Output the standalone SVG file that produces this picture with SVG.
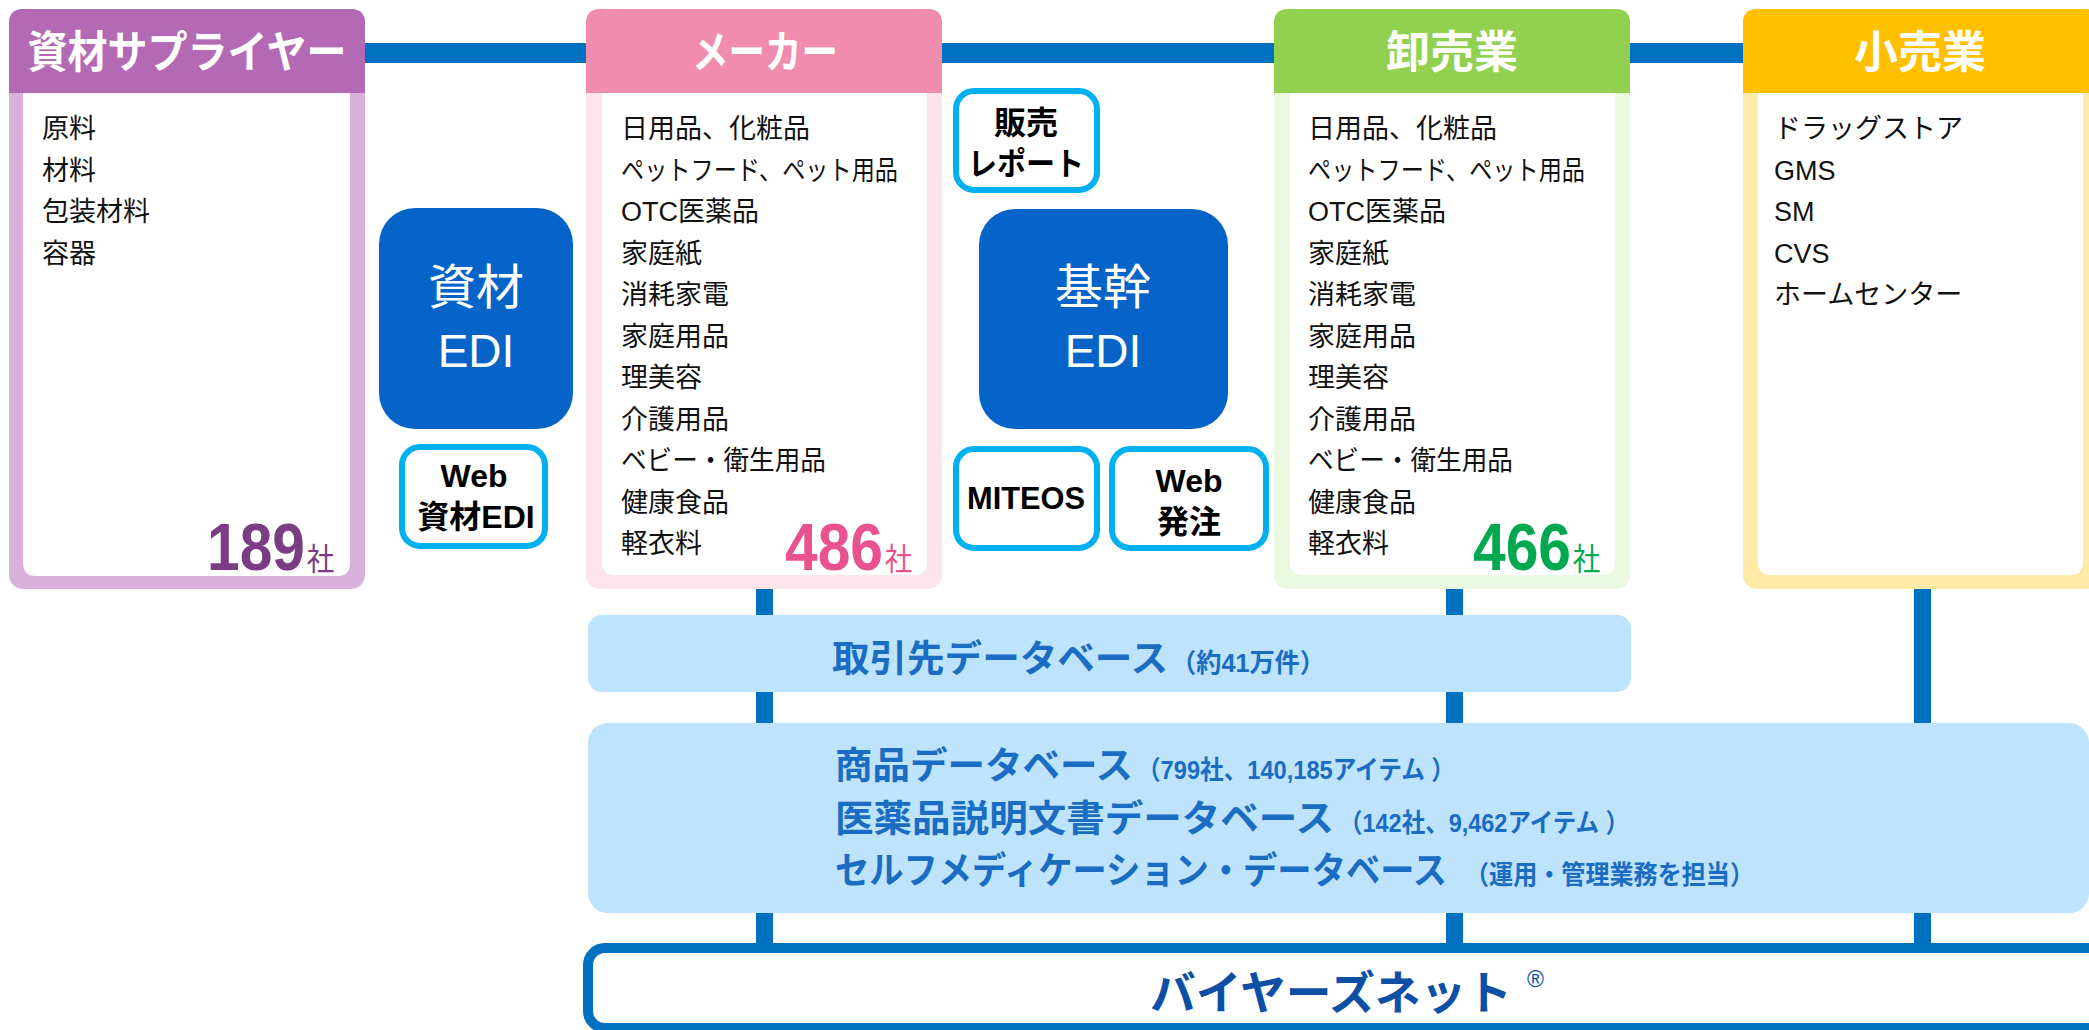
<svg xmlns="http://www.w3.org/2000/svg" width="2089" height="1030" viewBox="0 0 2089 1030">
<style>
.hdr{font-family:"Noto Sans CJK JP",sans-serif;font-size:44px;font-weight:700;fill:#fff;text-anchor:middle}
.item{font-family:"Liberation Sans","Noto Sans CJK JP",sans-serif;font-size:27px;fill:#111}
.edi{font-family:"Noto Sans CJK JP",sans-serif;font-size:48px;fill:#fff;text-anchor:middle}
.edil{font-family:"Liberation Sans","Noto Sans CJK JP",sans-serif;font-size:46px;fill:#fff;text-anchor:middle}
.cy{font-family:"Liberation Sans","Noto Sans CJK JP",sans-serif;font-weight:700;font-size:32px;fill:#000;text-anchor:middle}
.cybox{fill:#fff;stroke:#00B0F0;stroke-width:6}
.edibox{fill:#0664C9}
.cnt{font-family:"Liberation Sans","Noto Sans CJK JP",sans-serif}
.num{font-weight:700;font-size:66px}
.sha{font-family:"Noto Sans CJK JP",sans-serif;font-weight:400;font-size:31px}
.db{fill:#BEE3FC}
.dbt{font-family:"Noto Sans CJK JP",sans-serif;font-weight:700;font-size:37px;fill:#1A6DC2}
.dbs{font-family:"Liberation Sans","Noto Sans CJK JP",sans-serif;font-weight:700;font-size:26px;fill:#1A6DC2}
.conn{fill:#0070C0}
</style>

<g id="connectors">
  <rect class="conn" x="360" y="43" width="1390" height="20"/>
  <rect class="conn" x="756" y="585" width="17" height="362"/>
  <rect class="conn" x="1446" y="585" width="17" height="362"/>
  <rect class="conn" x="1914" y="585" width="17" height="362"/>
</g>

<g id="supplier">
  <rect x="9" y="9" width="356" height="580" rx="14" fill="#D9B0DB"/>
  <path d="M9,93 V23 Q9,9 23,9 H351 Q365,9 365,23 V93 Z" fill="#B469B5"/>
  <path d="M23,93 H350 V563 Q350,576 337,576 H36 Q23,576 23,563 Z" fill="#fff"/>
  <text class="hdr" x="187" y="68" textLength="319" lengthAdjust="spacingAndGlyphs">資材サプライヤー</text>
  <text class="item" x="42" y="138">原料</text>
  <text class="item" x="42" y="179.5">材料</text>
  <text class="item" x="42" y="221">包装材料</text>
  <text class="item" x="42" y="262.5">容器</text>
  <text class="cnt" transform="translate(207,570) scale(0.89,1)" fill="#7B3C85"><tspan class="num">189</tspan><tspan class="sha" dx="2">社</tspan></text>
</g>

<g id="maker">
  <rect x="586" y="9" width="356" height="580" rx="14" fill="#FDE3EC"/>
  <path d="M586,93 V23 Q586,9 600,9 H928 Q942,9 942,23 V93 Z" fill="#F08CAE"/>
  <path d="M602,93 H927 V562 Q927,575 914,575 H615 Q602,575 602,562 Z" fill="#fff"/>
  <text class="hdr" x="765" y="68" textLength="146" lengthAdjust="spacingAndGlyphs">メーカー</text>
  <text class="item" x="621" y="138">日用品、化粧品</text>
  <text class="item" x="621" y="179.5" textLength="277" lengthAdjust="spacingAndGlyphs">ペットフード、ペット用品</text>
  <text class="item" x="621" y="221">OTC医薬品</text>
  <text class="item" x="621" y="262.5">家庭紙</text>
  <text class="item" x="621" y="304">消耗家電</text>
  <text class="item" x="621" y="345.5">家庭用品</text>
  <text class="item" x="621" y="387">理美容</text>
  <text class="item" x="621" y="428.5">介護用品</text>
  <text class="item" x="621" y="470" textLength="205" lengthAdjust="spacingAndGlyphs">ベビー・衛生用品</text>
  <text class="item" x="621" y="511.5">健康食品</text>
  <text class="item" x="621" y="553">軽衣料</text>
  <text class="cnt" transform="translate(785,570) scale(0.89,1)" fill="#E9528E"><tspan class="num">486</tspan><tspan class="sha" dx="2">社</tspan></text>
</g>

<g id="wholesaler">
  <rect x="1274" y="9" width="356" height="580" rx="14" fill="#EAF8DF"/>
  <path d="M1274,93 V23 Q1274,9 1288,9 H1616 Q1630,9 1630,23 V93 Z" fill="#92D050"/>
  <path d="M1290,93 H1615 V562 Q1615,575 1602,575 H1303 Q1290,575 1290,562 Z" fill="#fff"/>
  <text class="hdr" x="1452" y="68">卸売業</text>
  <text class="item" x="1308" y="138">日用品、化粧品</text>
  <text class="item" x="1308" y="179.5" textLength="277" lengthAdjust="spacingAndGlyphs">ペットフード、ペット用品</text>
  <text class="item" x="1308" y="221">OTC医薬品</text>
  <text class="item" x="1308" y="262.5">家庭紙</text>
  <text class="item" x="1308" y="304">消耗家電</text>
  <text class="item" x="1308" y="345.5">家庭用品</text>
  <text class="item" x="1308" y="387">理美容</text>
  <text class="item" x="1308" y="428.5">介護用品</text>
  <text class="item" x="1308" y="470" textLength="205" lengthAdjust="spacingAndGlyphs">ベビー・衛生用品</text>
  <text class="item" x="1308" y="511.5">健康食品</text>
  <text class="item" x="1308" y="553">軽衣料</text>
  <text class="cnt" transform="translate(1473,570) scale(0.89,1)" fill="#00A94F"><tspan class="num">466</tspan><tspan class="sha" dx="2">社</tspan></text>
</g>

<g id="retailer">
  <rect x="1743" y="9" width="356" height="580" rx="14" fill="#FFEAA8"/>
  <path d="M1743,93 V23 Q1743,9 1757,9 H2085 Q2099,9 2099,23 V93 Z" fill="#FFC000"/>
  <path d="M1758,93 H2083 V562 Q2083,575 2070,575 H1771 Q1758,575 1758,562 Z" fill="#fff"/>
  <text class="hdr" x="1920" y="68">小売業</text>
  <text class="item" x="1774" y="138">ドラッグストア</text>
  <text class="item" x="1774" y="179.5">GMS</text>
  <text class="item" x="1774" y="221">SM</text>
  <text class="item" x="1774" y="262.5">CVS</text>
  <text class="item" x="1774" y="304">ホームセンター</text>
</g>

<g id="edi-material">
  <rect class="edibox" x="379" y="208" width="194" height="221" rx="36"/>
  <text class="edi" x="476" y="304">資材</text>
  <text class="edil" x="476" y="367">EDI</text>
</g>

<g id="web-material-edi">
  <rect class="cybox" x="402" y="447" width="143" height="99" rx="18"/>
  <text class="cy" x="474" y="487">Web</text>
  <text class="cy" x="476" y="528" font-size="31">資材EDI</text>
</g>

<g id="sales-report">
  <rect class="cybox" x="956" y="91" width="141" height="99" rx="18"/>
  <text class="cy" x="1026" y="134">販売</text>
  <text class="cy" x="1026" y="175" textLength="116" lengthAdjust="spacingAndGlyphs">レポート</text>
</g>

<g id="edi-core">
  <rect class="edibox" x="979" y="209" width="249" height="220" rx="36"/>
  <text class="edi" x="1103" y="304">基幹</text>
  <text class="edil" x="1103" y="367">EDI</text>
</g>

<g id="miteos">
  <rect class="cybox" x="956" y="449" width="141" height="99" rx="18"/>
  <text class="cy" x="1026" y="509" textLength="118" lengthAdjust="spacingAndGlyphs">MITEOS</text>
</g>

<g id="web-order">
  <rect class="cybox" x="1112" y="449" width="154" height="99" rx="18"/>
  <text class="cy" x="1189" y="492">Web</text>
  <text class="cy" x="1189" y="533">発注</text>
</g>

<g id="db-partner">
  <rect class="db" x="588" y="615" width="1043" height="77" rx="14"/>
  <text class="dbt" x="832" y="672" textLength="336" lengthAdjust="spacingAndGlyphs">取引先データベース</text>
  <text class="dbs" x="1171" y="672" textLength="154" lengthAdjust="spacingAndGlyphs">（約41万件）</text>
</g>

<g id="db-product">
  <rect class="db" x="588" y="723" width="1501" height="190" rx="20"/>
  <text class="dbt" x="835" y="779" textLength="298" lengthAdjust="spacingAndGlyphs">商品データベース</text>
  <text class="dbs" x="1137" y="779" textLength="318" lengthAdjust="spacingAndGlyphs">（799社、140,185アイテム ）</text>
  <text class="dbt" x="835" y="832" textLength="499" lengthAdjust="spacingAndGlyphs">医薬品説明文書データベース</text>
  <text class="dbs" x="1339" y="832" textLength="290" lengthAdjust="spacingAndGlyphs">（142社、9,462アイテム ）</text>
  <text class="dbt" x="835" y="884" textLength="612" lengthAdjust="spacingAndGlyphs">セルフメディケーション・データベース</text>
  <text class="dbs" x="1465" y="884" textLength="289" lengthAdjust="spacingAndGlyphs">（運用・管理業務を担当）</text>
</g>

<g id="buyersnet">
  <rect x="588" y="948" width="1520" height="80" rx="17" fill="#fff" stroke="#0070C0" stroke-width="10"/>
  <text x="1150" y="1009" font-family="Noto Sans CJK JP, sans-serif" font-weight="700" font-size="46" fill="#0E4FA6" textLength="362" lengthAdjust="spacingAndGlyphs">バイヤーズネット</text>
  <text x="1527" y="987" font-family="Liberation Sans, sans-serif" font-size="23" fill="#0E4FA6">®</text>
</g>
</svg>
